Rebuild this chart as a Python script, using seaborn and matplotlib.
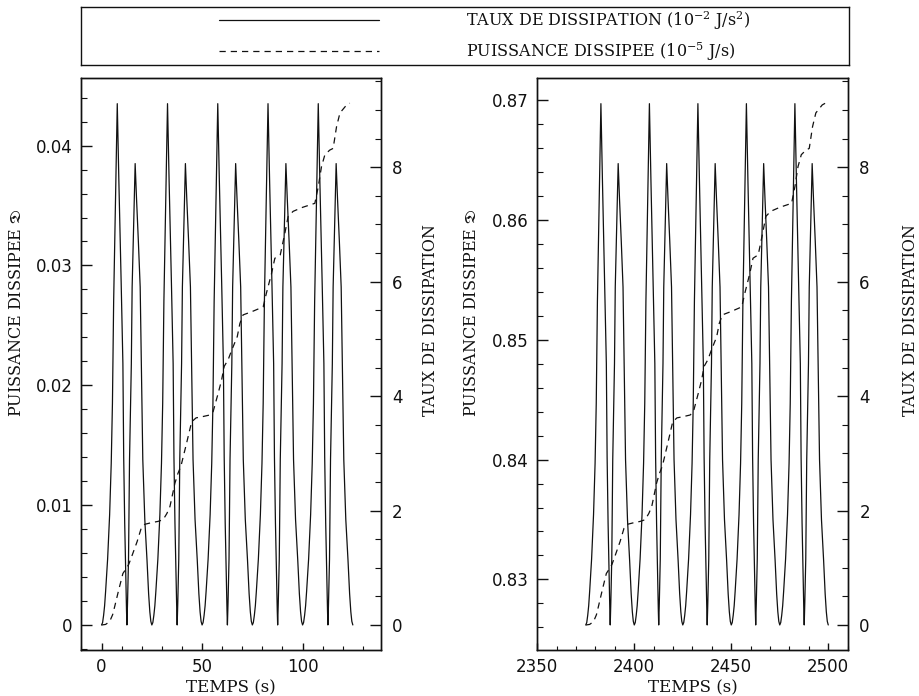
import numpy as np
import pandas as pd
import matplotlib
matplotlib.use("Agg")
import matplotlib.pyplot as plt
import seaborn as sns
from matplotlib.lines import Line2D
from matplotlib.ticker import MultipleLocator, FuncFormatter

# One oscillation cycle of the dissipation rate: time from the cycle start (s)
# and rate above the floor (left axis units)
cycle_t = [0.0, 0.5, 1.0, 1.5, 2.0, 3.0, 4.0, 4.8, 5.4, 6.0, 6.9, 7.8,
           8.6, 9.75, 10.6, 11.0, 11.5, 12.0, 12.4, 12.6,
           12.9, 13.4, 13.9, 14.8, 15.2, 16.0, 16.7,
           17.4, 18.3, 19.2, 19.8, 20.5, 21.5, 22.6, 23.4, 24.0, 24.5, 25.0]
cycle_rate = [0.0, 0.0002, 0.0008, 0.0016, 0.0028, 0.0055, 0.0092, 0.0135, 0.0185, 0.0270, 0.0355, 0.0435,
              0.0370, 0.0285, 0.0218, 0.0140, 0.0085, 0.0042, 0.0012, 0.0,
              0.0018, 0.0055, 0.0138, 0.0218, 0.0282, 0.0335, 0.0385,
              0.0355, 0.0320, 0.0282, 0.0218, 0.0138, 0.0088, 0.0054, 0.0026, 0.0011, 0.0003, 0.0]

# Start of each cycle in the two time windows, and the rate floor of each window
early_starts = [0, 25, 50, 75, 100]
late_starts = [2375, 2400, 2425, 2450, 2475]
early_floor = 0.0
late_floor = 0.8262

# Cumulative dissipated power (right axis), time from the window start (s)
power_t = [0, 2, 4, 5.5, 6.5, 8.5, 10.6, 12.5, 13.5, 14.7,
           17.7, 19.7, 21.5, 25, 28, 30.6, 32.5, 34, 36.5, 38,
           39.5, 42.3, 44.8, 47, 50, 53.8, 55.5, 58, 59.7, 61,
           63, 64.7, 67.5, 68.8, 70.4, 75, 80.4, 82, 84.6, 86.2,
           88.9, 91.2, 92.8, 95.3, 100, 106.1, 107.8, 109.4, 111.1, 113.5,
           115.2, 116.9, 118.6, 121.9, 123.5]
power_v = [0, 0.01, 0.06, 0.18, 0.32, 0.61, 0.90, 1.00, 1.06, 1.17,
           1.46, 1.69, 1.76, 1.79, 1.81, 1.84, 1.95, 2.07, 2.48, 2.65,
           2.78, 3.18, 3.55, 3.62, 3.64, 3.67, 3.73, 4.05, 4.28, 4.52,
           4.64, 4.80, 5.04, 5.27, 5.42, 5.48, 5.56, 5.80, 6.15, 6.41,
           6.47, 6.85, 7.14, 7.23, 7.30, 7.37, 7.66, 8.01, 8.22, 8.30,
           8.33, 8.71, 8.95, 9.09, 9.12]

early_xticks = [0, 50, 100]
late_xticks = [2350, 2400, 2450, 2500]
early_yticks = [0, 0.01, 0.02, 0.03, 0.04]
late_yticks = [0.83, 0.84, 0.85, 0.86, 0.87]
power_ticks = [0, 2, 4, 6, 8]

legend_labels = [r"TAUX DE DISSIPATION (10$^{-2}$ J/s$^{2}$)",
                 r"PUISSANCE DISSIPEE (10$^{-5}$ J/s)"]
x_label = "TEMPS (s)"
left_label = r"PUISSANCE DISSIPEE $\mathfrak{D}$"
right_label = "TAUX DE DISSIPATION"

sns.set_theme(style="ticks")
plt.rcParams.update({
    "font.family": ["DejaVu Serif", "DejaVu Sans"],
    "mathtext.fontset": "dejavuserif",
    "axes.linewidth": 1.0,
    "axes.edgecolor": "#111111",
    "xtick.color": "#111111",
    "ytick.color": "#111111",
    "text.color": "#111111",
    "axes.labelcolor": "#111111",
})

INK = "#111111"
DASH = (0, (5, 4))
TICK_FONT = dict(family="DejaVu Sans", size=12)


def rate_frame(starts, floor):
    t, r = [], []
    for s in starts:
        t.extend(s + np.asarray(cycle_t))
        r.extend(floor + np.asarray(cycle_rate))
    return pd.DataFrame({"temps": t, "taux": r})


def power_frame(start):
    return pd.DataFrame({"temps": start + np.asarray(power_t), "puissance": power_v})


fig = plt.figure(figsize=(9.2, 6.96), dpi=100)

panels = [
    dict(rect=[0.0877, 0.0661, 0.3264, 0.8218], starts=early_starts, floor=early_floor,
         origin=early_starts[0], xlim=(-10.4, 139), xticks=early_xticks,
         yticks=early_yticks, fmt=lambda v, p: f"{v:g}", llab=-0.185, rlab=1.137),
    dict(rect=[0.5840, 0.0661, 0.3380, 0.8218], starts=late_starts, floor=late_floor,
         origin=late_starts[0], xlim=(2350, 2510.3), xticks=late_xticks,
         yticks=late_yticks, fmt=lambda v, p: f"{v:.2f}", llab=-0.184, rlab=1.172),
]

for pnl in panels:
    ax = fig.add_axes(pnl["rect"])
    rdf = rate_frame(pnl["starts"], pnl["floor"])
    sns.lineplot(data=rdf, x="temps", y="taux", ax=ax, color=INK, lw=0.9,
                 sort=False, estimator=None)
    ax.set_xlim(*pnl["xlim"])
    ax.set_ylim(pnl["floor"] - 0.00209, pnl["floor"] + 0.04564)
    ax.set_xticks(pnl["xticks"])
    ax.xaxis.set_minor_locator(MultipleLocator(10))
    ax.set_yticks(pnl["yticks"])
    ax.yaxis.set_minor_locator(MultipleLocator(0.002))
    ax.yaxis.set_major_formatter(FuncFormatter(pnl["fmt"]))
    ax.tick_params(axis="y", which="major", direction="in", length=8, width=1, pad=6)
    ax.tick_params(axis="y", which="minor", direction="in", length=4, width=0.8)
    ax.tick_params(axis="x", which="major", direction="in", length=5, width=1, pad=6)
    ax.tick_params(axis="x", which="minor", direction="in", length=3, width=0.8)
    for lab in ax.get_xticklabels() + ax.get_yticklabels():
        lab.set_fontfamily(TICK_FONT["family"])
        lab.set_fontsize(TICK_FONT["size"])
    ax.set_xlabel(x_label, fontsize=12, labelpad=2)
    ax.set_ylabel(left_label, fontsize=11.5)
    ax.yaxis.set_label_coords(pnl["llab"], 0.59)

    tw = ax.twinx()
    pdf = power_frame(pnl["origin"])
    sns.lineplot(data=pdf, x="temps", y="puissance", ax=tw, color=INK, lw=0.9,
                 linestyle=DASH, sort=False, estimator=None)
    tw.set_ylim(-0.437, 9.56)
    tw.set_yticks(power_ticks)
    tw.yaxis.set_minor_locator(MultipleLocator(0.5))
    tw.tick_params(axis="y", which="major", direction="in", length=8, width=1, pad=8)
    tw.tick_params(axis="y", which="minor", direction="in", length=4, width=0.8)
    for lab in tw.get_yticklabels():
        lab.set_fontfamily(TICK_FONT["family"])
        lab.set_fontsize(TICK_FONT["size"])
    tw.set_ylabel(right_label, fontsize=11.5)
    tw.yaxis.set_label_coords(pnl["rlab"], 0.577)

# Legend box spanning both panels
lax = fig.add_axes([0.0877, 0.9066, 0.8350, 0.0833])
lax.set_xticks([])
lax.set_yticks([])
for sp in lax.spines.values():
    sp.set_linewidth(1.0)
handles = [Line2D([], [], color=INK, lw=0.9),
           Line2D([], [], color=INK, lw=0.9, linestyle=DASH)]
lax.legend(handles, legend_labels, loc="center", bbox_to_anchor=(0.526, 0.5),
           frameon=False, fontsize=11.5, handlelength=10, handletextpad=5.5,
           labelspacing=0.5, borderpad=0)

fig.savefig("out.png", dpi=100, facecolor="white")
